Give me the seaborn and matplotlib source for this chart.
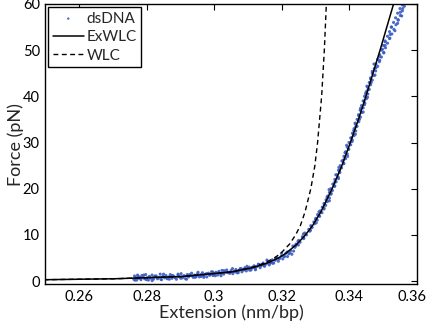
import matplotlib
matplotlib.use("Agg")
import matplotlib.pyplot as plt
import matplotlib.transforms as mtransforms
import seaborn as sns
import pandas as pd
from matplotlib.ticker import FixedLocator, FuncFormatter

# ---------------- data ----------------
# dsDNA measured points: low-force part (extension nm/bp, force pN)
data_low_x = [0.2762, 0.2764, 0.2767, 0.2770, 0.2773, 0.2776, 0.2779, 0.2783, 0.2786, 0.2790,
              0.2794, 0.2797, 0.2801, 0.2805, 0.2808, 0.2812, 0.2816, 0.2820, 0.2824, 0.2828,
              0.2832, 0.2836, 0.2840, 0.2844, 0.2848, 0.2853, 0.2857, 0.2861, 0.2866, 0.2870,
              0.2875, 0.2879, 0.2884, 0.2888, 0.2893, 0.2897, 0.2902, 0.2906, 0.2911, 0.2915,
              0.2920, 0.2924, 0.2929, 0.2933, 0.2938, 0.2942, 0.2947, 0.2951, 0.2956, 0.2960,
              0.2965, 0.2969, 0.2974, 0.2978, 0.2983, 0.2987, 0.2992, 0.2996, 0.3001, 0.3005,
              0.3010, 0.3014, 0.3019, 0.3023, 0.3028, 0.3032, 0.3037, 0.3041, 0.3046, 0.3050,
              0.3055, 0.3059, 0.3064, 0.3068, 0.3073, 0.3077, 0.3082, 0.3086, 0.3091, 0.3095,
              0.3100, 0.3104, 0.3109, 0.3113, 0.3118, 0.3122, 0.3127, 0.3131, 0.3136, 0.3140,
              0.3145, 0.3149, 0.3154, 0.3158, 0.3163, 0.3167, 0.3172, 0.3176, 0.3181, 0.3185,
              0.3190, 0.3194, 0.3199, 0.3203, 0.3208, 0.3212, 0.3217, 0.3221, 0.3226, 0.3230,
              0.3235, 0.3239,
              0.2765, 0.2774, 0.2782, 0.2791, 0.2799, 0.2808, 0.2816, 0.2825, 0.2833, 0.2842,
              0.2850, 0.2859, 0.2867, 0.2876, 0.2884, 0.2893, 0.2901, 0.2910, 0.2918, 0.2927,
              0.2935, 0.2944, 0.2952, 0.2961, 0.2969, 0.2978, 0.2986, 0.2995, 0.3003, 0.3012,
              0.3020, 0.3029, 0.3037, 0.3046, 0.3054, 0.3063, 0.3071, 0.3080, 0.3088, 0.3097,
              0.3105, 0.3114, 0.3122, 0.3131, 0.3139, 0.3148, 0.3156, 0.3165, 0.3173, 0.3182,
              0.3190, 0.3199, 0.3207, 0.3216, 0.3224, 0.3233]
data_low_f = [0.4, 1.1, 0.7, 0.2, 1.3, 0.6, 0.9, 0.3, 1.2, 0.8,
              0.5, 1.4, 0.7, 0.2, 1.0, 0.6, 1.3, 0.4, 0.9, 1.1,
              0.5, 0.8, 1.5, 0.3, 1.0, 0.7, 1.2, 0.5, 0.9, 1.4,
              0.6, 1.1, 0.8, 0.4, 1.3, 0.9, 1.6, 0.7, 1.1, 0.5,
              1.4, 0.9, 1.2, 1.7, 0.8, 1.3, 1.0, 1.6, 0.9, 1.4,
              1.8, 1.1, 1.5, 0.9, 1.7, 1.3, 2.0, 1.2, 1.6, 1.9,
              1.3, 2.1, 1.6, 2.3, 1.5, 2.0, 2.4, 1.8, 1.8, 2.3,
              1.6, 2.1, 2.5, 1.8, 2.3, 2.7, 2.0, 2.5, 2.9, 2.2,
              2.7, 3.0, 2.4, 2.9, 3.3, 2.6, 3.2, 3.6, 2.9, 3.4,
              3.9, 3.2, 3.7, 4.2, 3.5, 4.0, 4.6, 3.9, 4.5, 5.0,
              4.3, 4.9, 5.4, 4.8, 5.3, 6.0, 5.3, 5.9, 6.6, 5.8,
              6.5, 7.3,
              0.2, 1.0, 0.6, 1.3, 0.3, 0.8, 0.1, 1.1, 0.7, 0.4,
              1.5, 0.7, 0.4, 1.2, 0.8, 1.5, 0.6, 1.1, 0.4, 1.4,
              1.1, 0.8, 1.9, 1.0, 0.8, 1.6, 1.3, 2.0, 1.15, 1.75,
              1.15, 2.25, 1.9, 1.7, 2.7, 2.0, 1.8, 2.7, 2.4, 3.2,
              2.35, 3.0, 2.45, 3.65, 3.45, 3.35, 4.55, 3.9, 3.85, 4.95,
              4.9, 6.0, 5.4, 6.3, 6.1, 7.6]
# dsDNA measured points: high-force part
data_high_f = [7.6, 8.0, 8.4, 8.8, 9.2, 9.6, 10.0, 10.4, 10.8, 11.2, 11.6, 12.0, 12.4, 12.8,
               13.2, 13.6, 14.0, 14.4, 14.8, 15.2, 15.6, 16.0, 16.4, 16.8, 17.2, 17.6, 18.0,
               18.4, 18.8, 19.2, 19.6, 20.0, 20.5, 21.0, 21.5, 22.0, 22.5, 23.0, 23.5, 24.0,
               24.5, 25.0, 25.5, 26.0, 26.5, 27.0, 27.5, 28.0, 28.5, 29.0, 29.5, 30.0, 30.5,
               31.0, 31.5, 32.0, 32.5, 33.0, 33.5, 34.0, 34.5, 35.0, 35.5, 36.0, 36.5, 37.0,
               37.5, 38.0, 38.5, 39.0, 39.5, 40.0, 40.5, 41.0, 41.5, 42.0, 42.5, 43.0, 43.5,
               44.0, 44.5, 45.0, 45.5, 46.0, 46.5, 47.0, 47.5, 48.0, 48.5, 49.0, 49.5, 50.0,
               50.5, 51.0, 51.5, 52.0, 52.5, 53.0, 53.5, 54.0, 54.5, 55.0, 55.5, 56.0, 56.5,
               57.0, 57.5, 58.0, 58.5, 59.0, 59.5, 60.0, 60.5,
               7.8, 8.6, 9.4, 10.2, 11.0, 11.8, 12.6, 13.4, 14.2, 15.0, 15.8, 16.6, 17.4,
               18.2, 19.0, 19.8, 20.6, 21.4, 22.2, 23.0, 23.8, 24.6, 25.4, 26.2, 27.0, 27.8,
               28.6, 29.4, 30.2, 31.0, 31.8, 32.6, 33.4, 34.2, 35.0, 35.8, 36.6, 37.4, 38.2,
               39.0, 39.8, 40.6, 41.4, 42.2, 43.0, 43.8, 44.6, 45.4, 46.2, 47.0, 47.8, 48.6,
               49.4, 50.2, 51.0, 51.8, 52.6, 53.4, 54.2, 55.0, 55.8, 56.6, 57.4, 58.2, 59.0,
               59.8, 60.6]
data_high_x = [0.3241, 0.3242, 0.3254, 0.3250, 0.3265, 0.3261, 0.3273, 0.3268, 0.3283, 0.3280,
               0.3290, 0.3286, 0.3297, 0.3295, 0.3305, 0.3301, 0.3312, 0.3306, 0.3319, 0.3314,
               0.3325, 0.3320, 0.3330, 0.3325, 0.3335, 0.3331, 0.3341, 0.3336, 0.3346, 0.3341,
               0.3350, 0.3345, 0.3356, 0.3351, 0.3361, 0.3357, 0.3367, 0.3360, 0.3372, 0.3368,
               0.3377, 0.3373, 0.3384, 0.3378, 0.3389, 0.3384, 0.3394, 0.3389, 0.3398, 0.3394,
               0.3404, 0.3399, 0.3409, 0.3404, 0.3414, 0.3409, 0.3419, 0.3414, 0.3423, 0.3418,
               0.3428, 0.3423, 0.3433, 0.3427, 0.3437, 0.3432, 0.3441, 0.3436, 0.3446, 0.3441,
               0.3451, 0.3445, 0.3455, 0.3450, 0.3459, 0.3454, 0.3463, 0.3459, 0.3468, 0.3463,
               0.3473, 0.3468, 0.3478, 0.3474, 0.3484, 0.3479, 0.3489, 0.3484, 0.3495, 0.3490,
               0.3502, 0.3496, 0.3507, 0.3501, 0.3513, 0.3506, 0.3519, 0.3513, 0.3526, 0.3519,
               0.3532, 0.3524, 0.3538, 0.3531, 0.3545, 0.3537, 0.3551, 0.3543, 0.3557, 0.3550,
               0.3563, 0.3556, 0.3569,
               0.3249, 0.3248, 0.3265, 0.3264, 0.3285, 0.3288, 0.3302, 0.3300, 0.3310, 0.3310,
               0.3325, 0.3326, 0.3341, 0.3334, 0.3346, 0.3340, 0.3357, 0.3357, 0.3368, 0.3363,
               0.3371, 0.3369, 0.3383, 0.3382, 0.3395, 0.3387, 0.3398, 0.3392, 0.3408, 0.3407,
               0.3418, 0.3413, 0.3419, 0.3417, 0.3430, 0.3428, 0.3441, 0.3433, 0.3445, 0.3444,
               0.3454, 0.3448, 0.3455, 0.3452, 0.3465, 0.3463, 0.3476, 0.3468, 0.3479, 0.3473,
               0.3490, 0.3490, 0.3502, 0.3498, 0.3506, 0.3506, 0.3520, 0.3521, 0.3535, 0.3525,
               0.3543, 0.3544, 0.3555, 0.3551, 0.3558, 0.3557, 0.3570]

# ExWLC model curve
exwlc_f = [0.29, 0.5, 1, 2, 3, 4, 5, 6, 8, 10, 12, 15, 20, 25, 30, 35, 40, 45, 50, 55, 60, 61]
exwlc_x = [0.2495, 0.2705, 0.2908, 0.3054, 0.3120, 0.3161, 0.3190, 0.3212, 0.3245, 0.3270,
           0.3291, 0.3316, 0.3349, 0.3378, 0.3403, 0.3427, 0.3449, 0.3470, 0.3491, 0.3511,
           0.3531, 0.3535]
# WLC model curve
wlc_f = [0.29, 0.5, 1, 2, 3, 4, 5, 6, 8, 10, 12, 15, 20, 25, 30, 40, 50, 60, 61]
wlc_x = [0.2495, 0.2707, 0.2909, 0.3051, 0.3114, 0.3152, 0.3178, 0.3197, 0.3223, 0.3241,
         0.3255, 0.3269, 0.3286, 0.3298, 0.3306, 0.3318, 0.3326, 0.3332, 0.3333]

x_ticks = [0.26, 0.28, 0.30, 0.32, 0.34, 0.36]
y_ticks = [0, 10, 20, 30, 40, 50, 60]

# ---------------- plotting ----------------
sns.set_theme(style="white")
plt.rcParams['font.family'] = ['Lato', 'DejaVu Sans']

fig = plt.figure(figsize=(4.28, 3.30), dpi=100)
ax = fig.add_axes([0.106, 0.1385, 0.868, 0.8495])

df_data = pd.DataFrame({"x": data_low_x + data_high_x, "f": data_low_f + data_high_f})
df_ex = pd.DataFrame({"x": exwlc_x, "f": exwlc_f})
df_wlc = pd.DataFrame({"x": wlc_x, "f": wlc_f})

sns.scatterplot(data=df_data, x="x", y="f", ax=ax, marker="o", s=5, color="#3a5bc4",
                edgecolor="none", linewidth=0, alpha=0.9, label="dsDNA", zorder=2)
sns.lineplot(data=df_ex, x="x", y="f", ax=ax, sort=False, estimator=None, color="black",
             linewidth=1.1, label="ExWLC", zorder=3)
sns.lineplot(data=df_wlc, x="x", y="f", ax=ax, sort=False, estimator=None, color="black",
             linewidth=1.0, linestyle=(0, (3.5, 2.5)), label="WLC", zorder=3)

ax.set_xlim(0.25, 0.36)
ax.set_ylim(-0.7, 60)
ax.xaxis.set_major_locator(FixedLocator(x_ticks))
ax.yaxis.set_major_locator(FixedLocator(y_ticks))
ax.xaxis.set_major_formatter(FuncFormatter(lambda v, p: "%g" % round(v, 2)))
ax.yaxis.set_major_formatter(FuncFormatter(lambda v, p: "%g" % v))
ax.tick_params(direction="in", length=4, width=0.8, top=True, right=True,
               labelsize=10.5, colors="black", pad=4)
for s in ax.spines.values():
    s.set_color("black")
    s.set_linewidth(1.0)
ax.set_xlabel("Extension (nm/bp)", fontsize=13, labelpad=0.5)
ax.set_ylabel("Force (pN)", fontsize=13, labelpad=-1)

# keep the last x tick label inside the canvas (as in the reference)
fig.canvas.draw()
last = ax.get_xticklabels()[-1]
last.set_transform(last.get_transform() +
                   mtransforms.ScaledTranslation(-5 / 100, 0, fig.dpi_scale_trans))

leg = ax.legend(loc="upper left", frameon=True, fancybox=False, fontsize=11,
                edgecolor="black", borderpad=0.3, handlelength=2.0, handletextpad=0.2,
                labelspacing=0.3, borderaxespad=0.2)
leg.get_frame().set_linewidth(1.0)
leg.get_frame().set_alpha(1)
leg.legend_handles[0].set_sizes([3])

fig.savefig("out.png", dpi=100)
